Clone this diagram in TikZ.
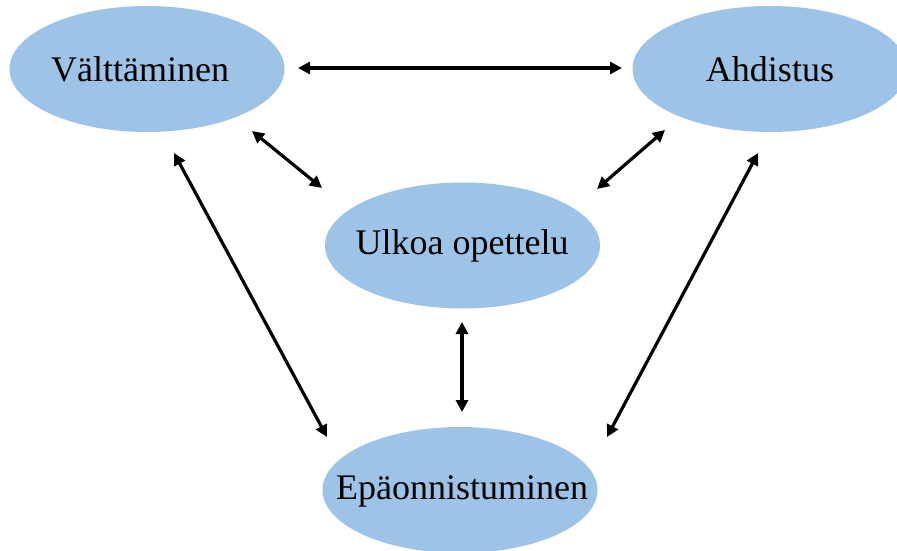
\documentclass[tikz,border=0pt]{standalone}
\usepackage{fontspec}
\setmainfont{Liberation Serif}
\usetikzlibrary{shapes.geometric,arrows.meta}
\definecolor{bubble}{HTML}{9DC3E6}
\begin{document}
\begin{tikzpicture}[x=1pt,y=-1pt,
  bubblenode/.style={ellipse, fill=bubble, draw=none, minimum width=275pt, minimum height=126pt, inner sep=0pt},
  bubbletext/.style={inner sep=0pt, font=\fontsize{36}{40}\selectfont},
  link/.style={line width=3.2pt, {Triangle[length=12pt,width=12pt]}-{Triangle[length=12pt,width=12pt]}}]
\useasboundingbox (0,0) rectangle (897,551);
\clip (0,0) rectangle (897,551);
\node[bubblenode] (valt) at (147,69) {};
\node[bubblenode] (ahd) at (770,69) {};
\node[bubblenode] (ulk) at (462.5,245.5) {};
\node[bubblenode] (epa) at (460,490) {};
\node[bubbletext] (valtT) at (140,69) {V\"altt\"aminen};
\node[bubbletext] (ahdT) at (770,69) {Ahdistus};
\node[bubbletext] (ulkT) at (462,246) {Ulkoa opettelu};
\node[bubbletext] (epaT) at (462,491) {Ep\"aonnistuminen};
\coordinate (a1) at (298,68);
\coordinate (a2) at (622,68);
\coordinate (b1) at (252,131);
\coordinate (b2) at (322,188);
\coordinate (c1) at (665,130);
\coordinate (c2) at (597,189);
\coordinate (d1) at (174,153);
\coordinate (d2) at (327,437);
\coordinate (e1) at (758,153);
\coordinate (e2) at (607,437);
\coordinate (f1) at (462,322);
\coordinate (f2) at (462,412);
\draw[link] (a1) -- (a2);
\draw[link] (b1) -- (b2);
\draw[link] (c1) -- (c2);
\draw[link] (d1) -- (d2);
\draw[link] (e1) -- (e2);
\draw[link] (f1) -- (f2);
\end{tikzpicture}
\end{document}
